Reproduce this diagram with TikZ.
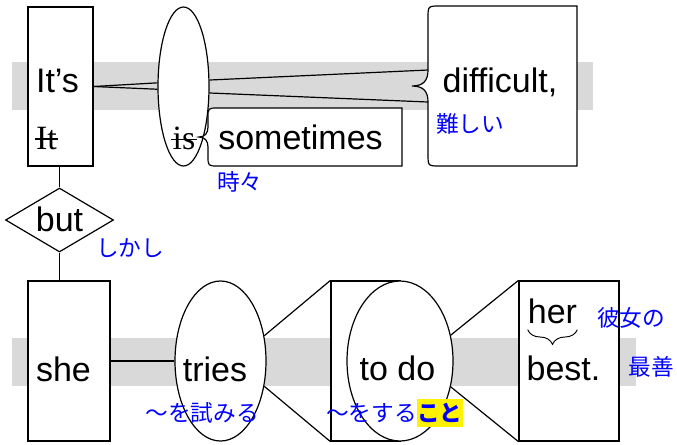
\documentclass[tikz,border=0pt]{standalone}
\usepackage{fontspec}
\setmainfont{Liberation Serif}
\setsansfont{Liberation Sans}
\newfontfamily\jpfont{Noto Sans CJK JP}
\usetikzlibrary{shapes.geometric,fit,decorations.pathreplacing}
\begin{document}
\begin{tikzpicture}[x=0.75pt,y=-0.75pt,
  txt/.style={font=\sffamily\fontsize{25.5}{30}\selectfont, inner sep=0pt, anchor=base},
  serif/.style={font=\rmfamily\fontsize{25.5}{30}\selectfont, inner sep=0pt, anchor=base},
  jp/.style={font=\jpfont\fontsize{17}{20}\selectfont, text=blue, inner sep=0pt},
  box/.style={draw, fill=white, line width=0.9pt},
  band/.style={fill=black!15},
  conn/.style={line width=0.9pt},
  ellbox/.style={ellipse, draw, fill=white, line width=0.9pt, inner sep=0pt},
]
\useasboundingbox (0,0) rectangle (677,444);
% bands
\fill[band] (12,62) rectangle (593,110);
\fill[band] (12,338) rectangle (636,386);

% ---- top clause ----
\node[box, fit={(28,7) (93,166)}, inner sep=0pt] (its) {};
\node[ellbox, minimum width=51*0.75pt, minimum height=159*0.75pt] (isell) at (183.5,86.5) {};
\coordinate (dtop) at (428,70);
\coordinate (dbot) at (428,102);
\draw[box] (577,6) -- (440,6) .. controls (428,6) .. (428,18) -- (dtop)
  .. controls (428,80) and (424,86) .. (412,86)
  .. controls (424,86) and (428,92) .. (dbot)
  -- (428,154) .. controls (428,166) .. (440,166) -- (577,166) -- cycle;
\draw[box] (402,108) -- (218,108) .. controls (208,108) .. (208,118) -- (208,127)
  .. controls (208,133) and (205,137) .. (199,137)
  .. controls (205,137) and (208,141) .. (208,147)
  -- (208,156) .. controls (208,166) .. (218,166) -- (402,166) -- cycle;

\draw[conn] (its.east) -- (isell.172);
\draw[conn] (its.east) -- (isell.186);
\draw[conn] (isell.14) -- (dtop);
\draw[conn] (isell.-14) -- (dbot);

\node[txt] (tits) at (57.5,92) {It’s};
\node[serif] (tit) at (46.5,149) {It};
\draw[line width=0.8pt] ([xshift=-1pt,yshift=7.5pt]tit.base west) -- ([xshift=1pt,yshift=7.5pt]tit.base east);
\node[serif] (tis) at (184,149) {is};
\draw[line width=0.8pt] ([xshift=-1pt,yshift=6.8pt]tis.base west) -- ([xshift=1pt,yshift=6.8pt]tis.base east);
\node[txt] (tdiff) at (500,92) {difficult,};
\node[txt] (tsome) at (300.5,149) {sometimes};
\node[jp, anchor=west] (jdiff) at (436,124) {難しい};
\node[jp, anchor=west] (jsome) at (217,182) {時々};

% ---- conjunction ----
\node[diamond, draw, fill=white, line width=0.9pt, inner sep=0pt,
      minimum width=108*0.75pt, minimum height=64*0.75pt] (butd) at (59.5,220) {};
\node[txt] (tbut) at (59.5,231.7) {but};
\node[jp, anchor=west] (jbut) at (96,248) {しかし};

% ---- bottom clause ----
\node[box, fit={(28,281) (110,441)}, inner sep=0pt] (she) {};
\node[ellbox, minimum width=91*0.75pt, minimum height=160*0.75pt] (tries) at (220.5,361) {};
\node[box, fit={(331,281) (400,441)}, inner sep=0pt] (todorect) {};
\node[ellbox, minimum width=106*0.75pt, minimum height=160*0.75pt] (todoell) at (400,361) {};
\node[box, fit={(519,281) (619,441)}, inner sep=0pt] (best) {};

\draw[conn] (butd.north) -- (butd.north |- its.south);
\draw[conn] (butd.south) -- (butd.south |- she.north);
\draw[conn] (she.east) -- (tries.west);
\draw[conn] (tries.30) -- (todorect.north west);
\draw[conn] (tries.-30) -- (todorect.south west);
\draw[conn] (todoell.27) -- (best.north west);
\draw[conn] (todoell.-27) -- (best.south west);

\node[txt] (tshe) at (63.5,381) {she};
\node[txt] (ttries) at (215,381) {tries};
\node[txt] (ttodo) at (397.5,380) {to do};
\node[txt] (ther) at (552.5,323) {her};
\node[txt] (tbest) at (563.5,380) {best.};
\draw[line width=0.7pt, decorate, decoration={brace, mirror, amplitude=11pt}]
  ([yshift=-5pt]ther.base west) -- ([yshift=-5pt]ther.base east);

\node[jp] (jtries) at (202,413) {～を試みる};
\node[jp, anchor=east] (jtodo) at (417,413) {～をする};
\node[jp, anchor=west, fill=yellow, inner xsep=0pt, inner ysep=3pt, font=\jpfont\bfseries\fontsize{17}{20}\selectfont] (jkoto) at (jtodo.east) {こと};
\node[jp] (jher) at (631,318) {彼女の};
\node[jp] (jbest) at (651,367) {最善};
\end{tikzpicture}
\end{document}
